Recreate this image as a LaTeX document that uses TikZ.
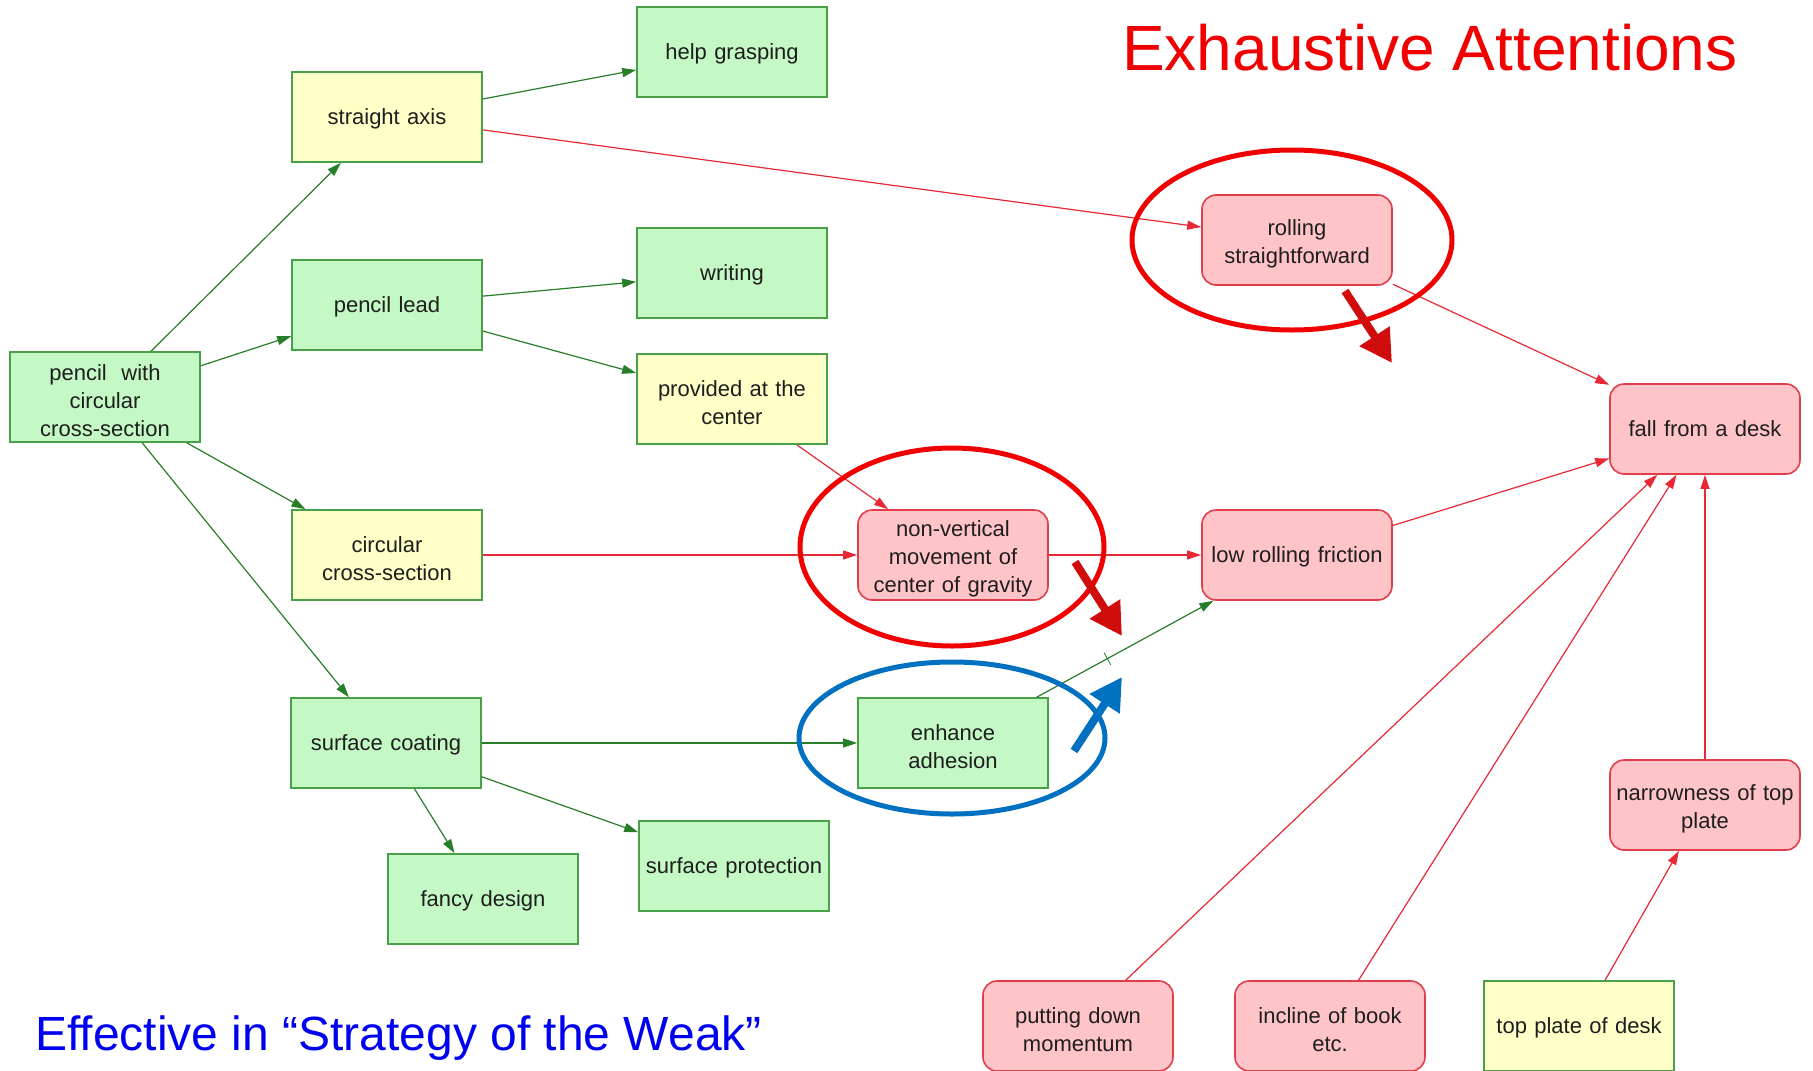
\documentclass[tikz,border=0pt]{standalone}
\usepackage{fontspec}
\setmainfont{Liberation Sans}
\usepackage{xcolor}
\usetikzlibrary{arrows.meta,positioning,shapes.geometric}
\definecolor{boxgreen}{RGB}{196,248,196}
\definecolor{boxyellow}{RGB}{255,255,200}
\definecolor{boxpink}{RGB}{255,196,200}
\definecolor{boxedge}{RGB}{72,160,72}
\definecolor{rboxedge}{RGB}{226,62,74}
\definecolor{linegreen}{RGB}{40,125,40}
\definecolor{linered}{RGB}{232,40,52}
\definecolor{textgray}{RGB}{30,30,30}
\definecolor{ringred}{RGB}{240,0,0}
\definecolor{ringblue}{RGB}{0,112,192}
\definecolor{hintred}{RGB}{208,12,12}
\definecolor{titleblue}{RGB}{0,0,240}

\begin{document}
\begin{tikzpicture}[x=1pt, y=-1pt]
      \tikzset{
          every node/.style={font=\fontsize{22}{28}\selectfont, text=textgray},
          box/.style={rectangle, line width=1.6pt, minimum height=90pt, text width=184pt, inner sep=3pt, align=center, execute at end node={\par\vspace*{-8pt}}},
          gbox/.style={box, draw=boxedge, fill=boxgreen},
          ybox/.style={box, draw=boxedge, fill=boxyellow},
          rbox/.style={box, draw=rboxedge, fill=boxpink, rounded corners=14pt},
          garrow/.style={draw=linegreen, line width=1.2pt, -{Triangle[length=14pt,width=9pt]}},
          rarrow/.style={draw=linered, line width=1.2pt, -{Triangle[length=14pt,width=9pt]}},
          tickmark/.style={draw=linegreen, line width=0.8pt, rectangle, minimum width=0pt, minimum height=14pt, inner sep=0pt},
          ring/.style={line width=5pt},
          hint/.style={line width=8pt, -{Triangle[length=32pt,width=34pt]}},
      }
      \useasboundingbox (0,0) rectangle (1813,1071);

      % left part
      \node[gbox] (pencil) at (105,397) {pencil~ with\\circular\\cross-section};
      \node[ybox] (axis) at (387,117) {straight axis};
      \node[gbox] (lead) at (387,305) {pencil lead};
      \node[ybox] (circ) at (387,555) {circular\\cross-section};
      \node[gbox] (coating) at (386,743) {surface coating};
      \node[gbox] (help) at (732,52) {help grasping};
      \node[gbox] (writing) at (732,273) {writing};
      \node[ybox] (center) at (732,399) {provided at the\\center};
      \node[gbox] (protect) at (734,866) {surface protection};
      \node[gbox] (fancy) at (483,899) {fancy design};
      \node[gbox] (adhesion) at (953,743) {enhance\\adhesion};

      % right part
      \node[rbox] (gravity) at (953,555) {non-vertical\\movement of\\center of gravity};
      \node[rbox] (rolling) at (1297,240) {rolling\\straightforward};
      \node[rbox] (friction) at (1297,555) {low rolling friction};
      \node[rbox] (fall) at (1705,429) {fall from a desk};
      \node[rbox] (narrow) at (1705,805) {narrowness of top\\plate};
      \node[rbox] (momentum) at (1078,1026) {putting down\\momentum};
      \node[rbox] (incline) at (1330,1026) {incline of book\\etc.};
      \node[ybox] (plate) at (1579,1026) {top plate of desk};

      \path[garrow] (pencil) -- (axis);
      \path[garrow] (pencil) -- (lead);
      \path[garrow] (pencil) -- (circ);
      \path[garrow] (pencil) -- (coating);
      \path[garrow] (axis) -- (help);
      \path[garrow] (lead) -- (writing);
      \path[garrow] (lead) -- (center);
      \path[garrow] (coating) -- (adhesion);
      \path[garrow] (coating) -- (fancy);
      \path[garrow] (coating) -- (protect);
      \path[garrow] (adhesion) -- node[pos=0.4, sloped, tickmark] (cut) {} (friction);

      \path[rarrow] (axis) -- (rolling);
      \path[rarrow] (center) -- (gravity);
      \path[rarrow] (circ) -- (gravity);
      \path[rarrow] (gravity) -- (friction);
      \path[rarrow] (rolling) -- (fall);
      \path[rarrow] (friction) -- (fall);
      \path[rarrow] (momentum) -- (fall);
      \path[rarrow] (incline) -- (fall);
      \path[rarrow] (narrow) -- (fall);
      \path[rarrow] (plate) -- (narrow);

      % attention marks
      \draw[ring, ringred] (1292,240) ellipse [x radius=160pt, y radius=90pt];
      \draw[ring, ringred] (952,547) ellipse [x radius=152pt, y radius=99pt];
      \draw[ring, ringblue] (952,738) ellipse [x radius=153pt, y radius=76pt];

      \coordinate (rollfrom) at (1345,291);
      \coordinate (rollto) at (1392,363);
      \coordinate (gravfrom) at (1075,562);
      \coordinate (gravto) at (1122,636);
      \coordinate (adhfrom) at (1074,751);
      \coordinate (adhto) at (1122,677);
      \draw[hint, hintred] (rollfrom) -- (rollto);
      \draw[hint, hintred] (gravfrom) -- (gravto);
      \draw[hint, ringblue] (adhfrom) -- (adhto);

      \node[anchor=base west, inner sep=0pt, font=\fontsize{64}{70}\selectfont, text=ringred] (title) at (1122,70) {Exhaustive Attentions};
      \node[anchor=base west, inner sep=0pt, font=\fontsize{48}{54}\selectfont, text=titleblue] (weak) at (35,1050) {Effective in “Strategy of the Weak”};

\end{tikzpicture}
\end{document}
